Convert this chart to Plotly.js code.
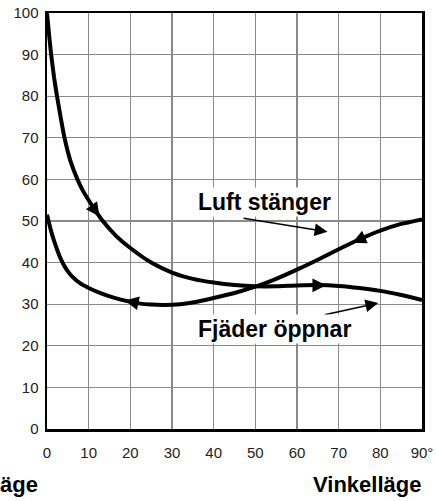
<!DOCTYPE html>
<html>
<head>
<meta charset="utf-8">
<script src="https://cdn.plot.ly/plotly-3.0.1.min.js"></script>
<style>html,body{margin:0;padding:0;background:#fff;}#chart{width:436px;height:501px;}</style>
</head>
<body>
<div id="chart"></div>
<script>
// Curve that starts at 100 and falls (arrows point toward increasing angle)
const curveA_x = [0, 0.5, 1, 1.7, 2.4, 3.3, 4.2, 5.6, 7.3, 8.6, 10, 11.7, 13.4, 16.5, 20, 25, 30, 35, 40, 45, 50, 55, 60, 65, 70, 75, 80, 85, 90];
const curveA_y = [100, 94.8, 90, 84.5, 80, 74.8, 70, 64.5, 60, 57.3, 55, 52.4, 50, 46.5, 43.5, 40, 37.6, 36.1, 35.2, 34.6, 34.3, 34.3, 34.5, 34.6, 34.4, 33.9, 33.2, 32.2, 31];
// Curve that starts near 52 and returns to 50 (arrows point toward decreasing angle)
const curveB_x = [0, 1, 2, 3, 4, 5, 6, 8, 10, 13, 16, 19, 22, 25, 28, 32, 36, 40, 45, 50, 55, 60, 65, 70, 75, 80, 85, 90];
const curveB_y = [51.5, 47.5, 44.3, 41.6, 39.5, 37.9, 36.7, 35.0, 33.9, 32.6, 31.6, 30.8, 30.2, 29.9, 29.8, 30, 30.6, 31.5, 32.7, 34.2, 36.1, 38.3, 40.7, 43.2, 45.6, 47.7, 49.3, 50.4];

// Direction arrows on the curves: head point and a tail point on the curve
const curveArrowHeadX = [12.6, 67.0, 18.7, 73.3];
const curveArrowHeadY = [51.1, 34.55, 30.9, 44.8];
const curveArrowTailX = [10.6, 62.0, 22.0, 77.0];
const curveArrowTailY = [53.9, 34.55, 30.2, 46.5];

// Text labels with pointer arrows
const labelTexts = ["Luft stänger", "Fjäder öppnar"];
const labelX = [52.1, 54.6];
const labelY = [54.6, 24.0];
const pointerHeadX = [67.3, 79.5];
const pointerHeadY = [47.4, 30.3];
const pointerTailX = [46.8, 66.3];
const pointerTailY = [50.7, 27.4];

const xTickVals = [0, 10, 20, 30, 40, 50, 60, 70, 80, 90];
const xTickText = ["0", "10", "20", "30", "40", "50", "60", "70", "80", "90°"];
const yTickVals = [0, 10, 20, 30, 40, 50, 60, 70, 80, 90, 100];
const yTickText = ["0", "10", "20", "30", "40", "50", "60", "70", "80", "90", "100"];

const xTitle = "Vinkelläge";
const yTitleVisible = "äge";

const labelFont = 'Liberation Sans, Arial, sans-serif';

const traces = [
  {x: curveA_x, y: curveA_y, mode: 'lines', line: {color: '#000', width: 4, shape: 'spline', smoothing: 0.5}, hoverinfo: 'skip', showlegend: false},
  {x: curveB_x, y: curveB_y, mode: 'lines', line: {color: '#000', width: 4, shape: 'spline', smoothing: 0.5}, hoverinfo: 'skip', showlegend: false}
];

const annotations = [];
for (let i = 0; i < curveArrowHeadX.length; i++) {
  annotations.push({
    x: curveArrowHeadX[i], y: curveArrowHeadY[i], xref: 'x', yref: 'y',
    ax: curveArrowTailX[i], ay: curveArrowTailY[i], axref: 'x', ayref: 'y',
    text: '', showarrow: true, arrowhead: 2, arrowsize: 1.1, arrowwidth: 2.5,
    arrowcolor: '#000', standoff: 0, startstandoff: 0
  });
}
for (let i = 0; i < labelTexts.length; i++) {
  annotations.push({
    x: pointerHeadX[i], y: pointerHeadY[i], xref: 'x', yref: 'y',
    ax: pointerTailX[i], ay: pointerTailY[i], axref: 'x', ayref: 'y',
    text: '', showarrow: true, arrowhead: 2, arrowsize: 1.6, arrowwidth: 1.6,
    arrowcolor: '#000', standoff: 0
  });
  annotations.push({
    x: labelX[i], y: labelY[i], xref: 'x', yref: 'y', showarrow: false,
    text: labelTexts[i], bgcolor: '#fff', borderpad: 1,
    font: {family: labelFont, size: 23, color: '#000', weight: 'bold'},
    xanchor: 'center', yanchor: 'middle'
  });
}
annotations.push({
  x: 1.0013, y: -0.1346, xref: 'paper', yref: 'paper', showarrow: false,
  text: xTitle, xanchor: 'right', yanchor: 'middle', borderpad: 0,
  font: {family: labelFont, size: 22, color: '#000', weight: 'bold'}
});
annotations.push({
  x: -0.127, y: -0.1346, xref: 'paper', yref: 'paper', showarrow: false,
  text: yTitleVisible, xanchor: 'left', yanchor: 'middle', borderpad: 0,
  font: {family: labelFont, size: 22, color: '#000', weight: 'bold'}
});

const layout = {
  width: 436, height: 501,
  margin: {l: 47, r: 14, t: 13, b: 72, pad: 0},
  paper_bgcolor: '#fff', plot_bgcolor: '#fff',
  showlegend: false,
  font: {family: 'Liberation Sans, Arial, sans-serif', size: 15, color: '#222'},
  xaxis: {
    range: [0, 90], tickvals: xTickVals, ticktext: xTickText,
    showgrid: true, gridcolor: '#8a8a8a', gridwidth: 1.3, zeroline: false,
    showline: true, linecolor: '#000', linewidth: 2.5, mirror: true,
    ticks: '', ticklabelstandoff: 8, fixedrange: true
  },
  yaxis: {
    range: [0, 100], tickvals: yTickVals, ticktext: yTickText,
    showgrid: true, gridcolor: '#8a8a8a', gridwidth: 1.3, zeroline: false,
    showline: true, linecolor: '#000', linewidth: 2.5, mirror: true,
    ticks: '', ticklabelstandoff: 3, fixedrange: true
  },
  annotations: annotations
};

Plotly.newPlot('chart', traces, layout, {staticPlot: true, displayModeBar: false});
</script>
</body>
</html>
